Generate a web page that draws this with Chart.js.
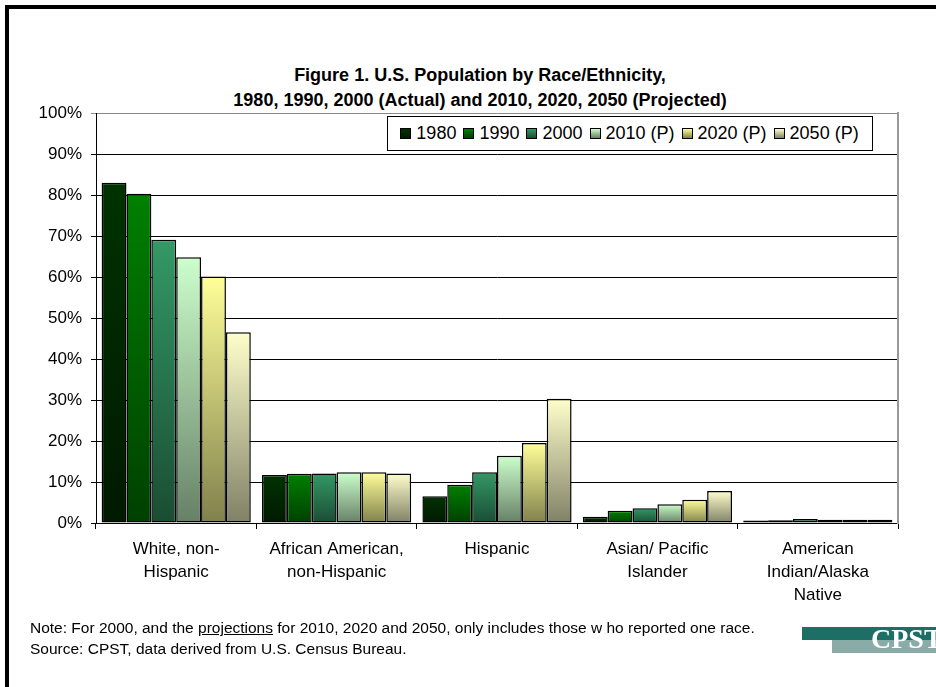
<!DOCTYPE html>
<html>
<head>
<meta charset="utf-8">
<script src="https://cdn.jsdelivr.net/npm/chart.js@4/dist/chart.umd.min.js"></script>
<style>
  html, body { margin: 0; padding: 0; background: #fff; }
  body { width: 936px; height: 687px; position: relative; overflow: hidden; font-family: "Liberation Sans", Arial, sans-serif; }
  #frame { position: absolute; left: 5px; top: 5px; width: 960px; height: 720px; border-left: 4px solid #000; border-top: 4px solid #000; }
  #title { position: absolute; left: 0; width: 960px; top: 63px; text-align: center; font-weight: bold; font-size: 18px; line-height: 25px; color: #000; }
  #chartWrap { position: absolute; left: 0; top: 0; width: 936px; height: 687px; }
  #legend { position: absolute; left: 387px; top: 116px; width: 484px; height: 33px; border: 1px solid #000; background: #fff;
            display: flex; align-items: center; justify-content: center; font-size: 18px; color: #000; box-sizing: content-box; }
  #legend .item { display: flex; align-items: center; margin: 0 4px 0 3px; white-space: nowrap; }
  #legend .sw { width: 9px; height: 9px; border: 1px solid #000; margin-right: 5px; }
  #note { position: absolute; left: 30px; top: 617px; font-size: 15.5px; line-height: 21px; color: #000; white-space: nowrap; }
  #note u { text-decoration: underline; }
  #logoDark { position: absolute; left: 802px; top: 627px; width: 140px; height: 13px; background: #1d6e64; }
  #logoLight { position: absolute; left: 832px; top: 640px; width: 110px; height: 13px; background: #8aaca8; }
  #logoText { position: absolute; left: 871px; top: 624px; font-family: "Liberation Serif", "Times New Roman", serif; font-weight: bold; font-size: 28px; line-height: 30px; color: #fff; }
</style>
</head>
<body>
<div id="frame"></div>
<div id="title">Figure 1. U.S. Population by Race/Ethnicity,<br>1980, 1990, 2000 (Actual) and 2010, 2020, 2050 (Projected)</div>
<div id="chartWrap"><canvas id="c" width="936" height="687"></canvas></div>
<div id="legend"></div>
<div id="note">Note: For 2000, and the <u>projections</u> for 2010, 2020 and 2050, only includes those w ho reported one race.<br>Source: CPST, data derived from U.S. Census Bureau.</div>
<div id="logoDark"></div>
<div id="logoLight"></div>
<div id="logoText">CPST</div>
<script>
// Population groups (x-axis), each label split into its display lines
const categories = [
  ['White, non-', 'Hispanic'],
  ['African American,', 'non-Hispanic'],
  ['Hispanic'],
  ['Asian/ Pacific', 'Islander'],
  ['American', 'Indian/Alaska', 'Native']
];

// Series names
const seriesNames = ['1980', '1990', '2000', '2010 (P)', '2020 (P)', '2050 (P)'];

// Share of U.S. population (%) per group, one array per year
const pct1980 = [83.0, 11.7, 6.5, 1.5, 0.6];
const pct1990 = [80.3, 12.0, 9.3, 3.0, 0.7];
const pct2000 = [69.1, 12.1, 12.4, 3.6, 1.0];
const pct2010 = [64.8, 12.4, 16.4, 4.6, 0.8];
const pct2020 = [60.1, 12.4, 19.5, 5.7, 0.8];
const pct2050 = [46.5, 12.1, 30.3, 7.8, 0.8];

// Y-axis tick values (%)
const yTicks = [0, 10, 20, 30, 40, 50, 60, 70, 80, 90, 100];

const seriesValues = [pct1980, pct1990, pct2000, pct2010, pct2020, pct2050];

// Gradient fills: light at the top of each bar, darker at its base
const fillTop    = ['#003300', '#008000', '#339966', '#ccffcc', '#ffff99', '#ffffcc'];
const fillBottom = ['#001a00', '#004000', '#1a4d33', '#668066', '#80804c', '#808066'];

function barGradient(i) {
  return (ctx) => {
    const chart = ctx.chart;
    if (!chart.chartArea || ctx.type !== 'data') return fillTop[i];
    const y = chart.scales.y;
    const v = ctx.dataset.data[ctx.dataIndex];
    const top = y.getPixelForValue(v);
    const base = y.getPixelForValue(0);
    const g = chart.ctx.createLinearGradient(0, top, 0, base === top ? top + 1 : base);
    g.addColorStop(0, fillTop[i]);
    g.addColorStop(1, fillBottom[i]);
    return g;
  };
}

const datasets = seriesNames.map((name, i) => ({
  label: name,
  data: seriesValues[i],
  backgroundColor: barGradient(i),
  borderColor: '#000',
  borderWidth: 1.5,
  borderSkipped: false,
  categoryPercentage: 0.93,
  barPercentage: 1.0
}));

// Legend inside the plot frame
const legend = document.getElementById('legend');
seriesNames.forEach((name, i) => {
  const item = document.createElement('div');
  item.className = 'item';
  const sw = document.createElement('div');
  sw.className = 'sw';
  sw.style.background = 'linear-gradient(' + fillTop[i] + ',' + fillBottom[i] + ')';
  const t = document.createElement('span');
  t.textContent = name;
  item.appendChild(sw);
  item.appendChild(t);
  legend.appendChild(item);
});

const axisFont = { family: '"Liberation Sans", Arial, sans-serif', size: 17 };

new Chart(document.getElementById('c'), {
  type: 'bar',
  data: { labels: categories, datasets },
  options: {
    responsive: false,
    animation: false,
    layout: { padding: { left: 0, right: 38, top: 113, bottom: 0 } },
    plugins: { legend: { display: false }, title: { display: false }, tooltip: { enabled: false } },
    scales: {
      x: {
        offset: true,
        grid: { offset: true, drawOnChartArea: false, drawTicks: true, tickLength: 6, color: '#000', lineWidth: 1 },
        border: { color: '#000', width: 1 },
        ticks: { color: '#000', font: Object.assign({}, axisFont, { lineHeight: 1.35 }), padding: 9, maxRotation: 0, autoSkip: false },
        afterFit: (s) => { s.height = 164; }
      },
      y: {
        min: 0,
        max: 100,
        afterBuildTicks: (s) => { s.ticks = yTicks.map(v => ({ value: v })); },
        grid: { color: (c) => (c.tick && c.tick.value === 100 ? '#888' : '#000'), lineWidth: 1, tickLength: 5, drawTicks: true },
        border: { color: '#000', width: 1 },
        ticks: { color: '#000', font: axisFont, padding: 9, callback: (v) => v + '%' },
        afterFit: (s) => { s.width = 96; }
      },
      yRight: {
        position: 'right',
        min: 0,
        max: 100,
        grid: { display: false, drawTicks: false },
        ticks: { display: false },
        border: { color: '#999', width: 2 },
        afterFit: (s) => { s.width = 0; }
      }
    }
  }
});
</script>
</body>
</html>
